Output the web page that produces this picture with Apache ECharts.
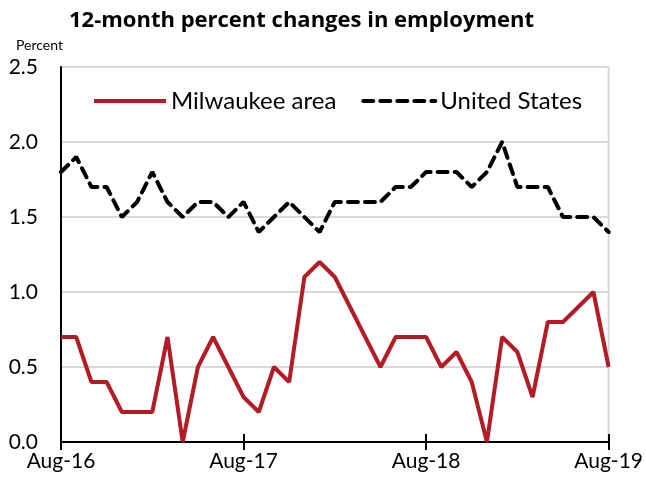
<!DOCTYPE html>
<html>
<head>
<meta charset="utf-8">
<script src="https://cdn.jsdelivr.net/npm/echarts@6/dist/echarts.min.js"></script>
<style>
  html, body { margin: 0; padding: 0; background: #fff; }
  #chart { width: 646px; height: 479px; }
</style>
</head>
<body>
<div id="chart"></div>
<script>
// months, Aug-16 .. Aug-19
var months = [
  'Aug-16','Sep-16','Oct-16','Nov-16','Dec-16','Jan-17','Feb-17','Mar-17','Apr-17','May-17','Jun-17','Jul-17',
  'Aug-17','Sep-17','Oct-17','Nov-17','Dec-17','Jan-18','Feb-18','Mar-18','Apr-18','May-18','Jun-18','Jul-18',
  'Aug-18','Sep-18','Oct-18','Nov-18','Dec-18','Jan-19','Feb-19','Mar-19','Apr-19','May-19','Jun-19','Jul-19',
  'Aug-19'
];
var milwaukee = [0.7,0.7,0.4,0.4,0.2,0.2,0.2,0.7,0.0,0.5,0.7,0.5,0.3,0.2,0.5,0.4,1.1,1.2,1.1,0.9,0.7,0.5,0.7,0.7,0.7,0.5,0.6,0.4,0.0,0.7,0.6,0.3,0.8,0.8,0.9,1.0,0.5];
var unitedStates = [1.8,1.9,1.7,1.7,1.5,1.6,1.8,1.6,1.5,1.6,1.6,1.5,1.6,1.4,1.5,1.6,1.5,1.4,1.6,1.6,1.6,1.6,1.7,1.7,1.8,1.8,1.8,1.7,1.8,2.0,1.7,1.7,1.7,1.5,1.5,1.5,1.4];

var font = 'Lato';
var chart = echarts.init(document.getElementById('chart'));
var option = {
  animation: false,
  textStyle: { fontFamily: font },
  title: [
    { text: '12-month percent changes in employment', left: 64, top: 5,
      textStyle: { fontFamily: 'Open Sans', fontSize: 22, fontWeight: 'bold', color: '#000' } },
    { text: 'Percent', left: 11, top: 33,
      textStyle: { fontFamily: font, fontSize: 14, fontWeight: 'normal', color: '#000' } }
  ],
  legend: {
    left: 87, top: 84,
    itemWidth: 72, itemHeight: 14, itemGap: 25,
    textStyle: { fontFamily: font, fontSize: 24, color: '#000' },
    itemStyle: { opacity: 0 },
    lineStyle: { width: 4 },
    data: ['Milwaukee area', 'United States']
  },
  grid: {
    left: 61, right: 37, top: 67, bottom: 37,
    show: true, borderColor: '#d9d9d9', borderWidth: 2, backgroundColor: 'transparent'
  },
  xAxis: [{
    type: 'category', data: months, boundaryGap: false,
    axisLine: { lineStyle: { color: '#000', width: 2 } },
    axisTick: { interval: 11, length: 8, lineStyle: { color: '#000', width: 2 } },
    axisLabel: { interval: 11, fontFamily: font, fontSize: 21, color: '#000', margin: 9 }
  }, {
    type: 'category', data: months, boundaryGap: false, position: 'bottom',
    axisLine: { show: false },
    axisTick: { inside: true, interval: 11, length: 8, lineStyle: { color: '#000', width: 2 } },
    axisLabel: { show: false }
  }],
  yAxis: {
    type: 'value', min: 0, max: 2.5, interval: 0.5,
    axisLine: { show: true, lineStyle: { color: '#000', width: 2 } },
    axisTick: { show: false },
    axisLabel: { fontFamily: font, fontSize: 21, color: '#000', margin: 23,
      formatter: function (v) { return v.toFixed(1); } },
    splitLine: { lineStyle: { color: '#d9d9d9', width: 2 } }
  },
  series: [{
    name: 'Milwaukee area', type: 'line', data: milwaukee,
    symbol: 'none', z: 3,
    lineStyle: { color: '#B31B25', width: 4 },
    itemStyle: { color: '#B31B25' }
  }, {
    name: 'United States', type: 'line', data: unitedStates,
    symbol: 'none', z: 2,
    lineStyle: { color: '#000', width: 4, type: [10, 7], cap: 'round' },
    itemStyle: { color: '#000' }
  }]
};
chart.setOption(option);
</script>
</body>
</html>
